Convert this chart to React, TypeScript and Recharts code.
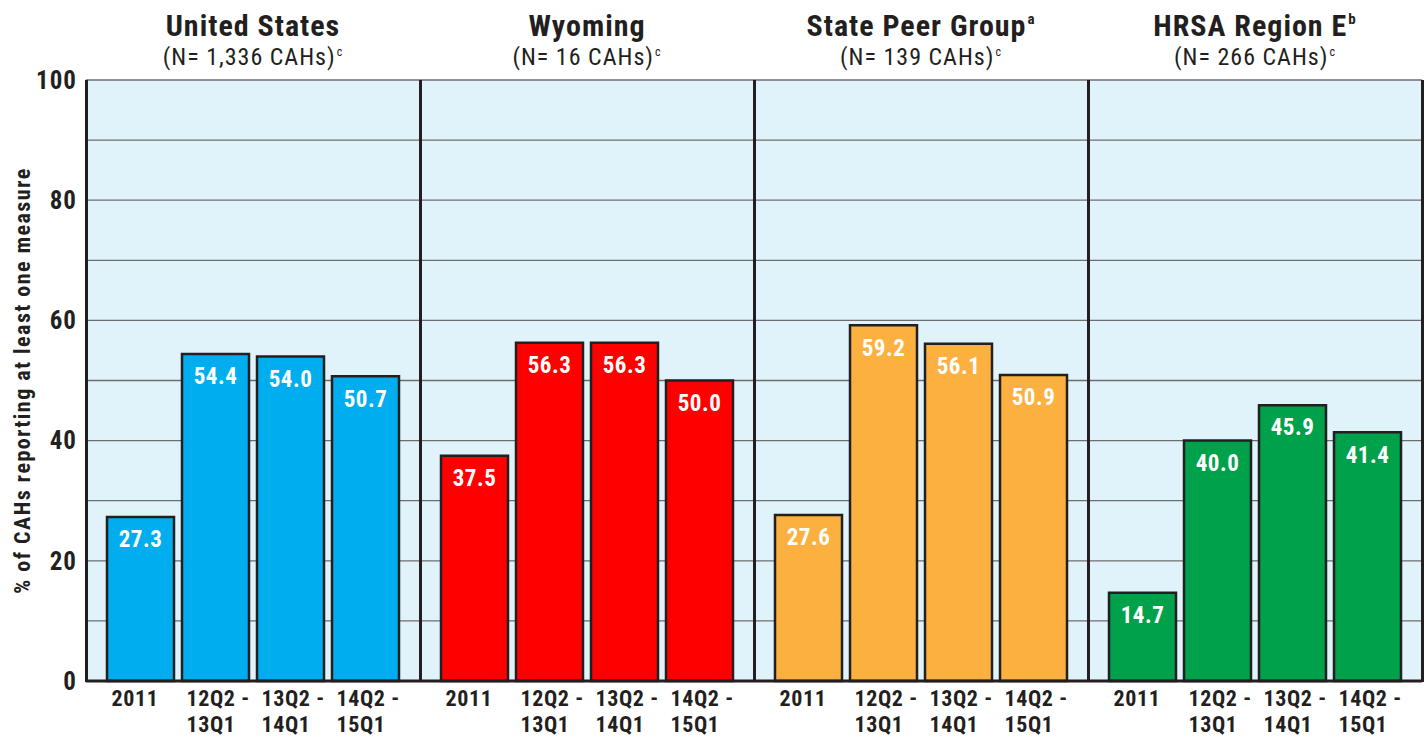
import { BarChart, Bar, XAxis, YAxis, CartesianGrid, LabelList } from "recharts";

const periods = ["2011", "12Q2 - 13Q1", "13Q2 - 14Q1", "14Q2 - 15Q1"];
const unitedStates = [27.3, 54.4, 54.0, 50.7];
const wyoming = [37.5, 56.3, 56.3, 50.0];
const statePeerGroup = [27.6, 59.2, 56.1, 50.9];
const hrsaRegionE = [14.7, 40.0, 45.9, 41.4];
const yTicks = [0, 10, 20, 30, 40, 50, 60, 70, 80, 90, 100];

const panelNames = ["United States", "Wyoming", "State Peer Group", "HRSA Region E"];
const panelNotes = ["", "", "a", "b"];
const panelCounts = ["(N= 1,336 CAHs)", "(N= 16 CAHs)", "(N= 139 CAHs)", "(N= 266 CAHs)"];
const panelValues = [unitedStates, wyoming, statePeerGroup, hrsaRegionE];
const panelColors = ["#00AEEF", "#FF0000", "#FBB040", "#00A14B"];

const FONT = "'Liberation Sans Narrow', 'Arial Narrow', 'Roboto Condensed', sans-serif";
const INK = "#231F20";

const PLOT_TOP = 80;
const PLOT_BOTTOM = 681;
const AXIS_W = 86;
const PANEL_W = 334;

function PeriodTick({ x, y, payload }: any) {
  const parts = String(payload.value).split(" - ");
  return (
    <text
      x={x - 29}
      y={y}
      fontFamily={FONT}
      fontWeight={700}
      fontSize={22}
      letterSpacing={0.6}
      fill={INK}
      textAnchor="start"
    >
      <tspan x={x - 29} dy={25}>{parts.length > 1 ? parts[0] + " -" : parts[0]}</tspan>
      {parts.length > 1 && <tspan x={x - 29} dy={26}>{parts[1]}</tspan>}
    </text>
  );
}

function Panel({ index }: { index: number }) {
  const first = index === 0;
  const data = periods.map((p, i) => ({ period: p, value: panelValues[index][i] }));
  const chartLeft = first ? 0 : AXIS_W + PANEL_W * index;
  const chartWidth = first ? AXIS_W + PANEL_W : PANEL_W;
  return (
    <div style={{ position: "absolute", left: chartLeft, top: 0 }}>
      <BarChart
        width={chartWidth}
        height={740}
        data={data}
        margin={{ top: PLOT_TOP, right: 0, bottom: 0, left: 0 }}
      >
        <CartesianGrid vertical={false} fill="#E0F3FA" stroke="#6D6E71" strokeWidth={1.3} />
        <XAxis
          dataKey="period"
          height={740 - PLOT_BOTTOM}
          padding={{ left: 17, right: 17 }}
          axisLine={{ stroke: INK, strokeWidth: 3 }}
          tickLine={false}
          tickSize={0}
          tickMargin={0}
          interval={0}
          tick={<PeriodTick />}
        />
        <YAxis
          domain={[0, 100]}
          ticks={yTicks}
          hide={!first}
          width={AXIS_W}
          axisLine={false}
          tickLine={false}
          tickSize={0}
          tickMargin={9}
          tickFormatter={(v: number) => (v % 20 === 0 ? String(v) : "")}
          tick={{ fontFamily: FONT, fontWeight: 700, fontSize: 25, letterSpacing: 1, fill: INK }}
          label={{
            value: "% of CAHs reporting at least one measure",
            angle: -90,
            position: "insideLeft",
            offset: 22,
            style: {
              fontFamily: FONT,
              fontWeight: 700,
              fontSize: 22,
              letterSpacing: 1.5,
              fill: INK,
              textAnchor: "middle",
            },
          }}
        />
        <Bar
          dataKey="value"
          fill={panelColors[index]}
          stroke={INK}
          strokeWidth={2.5}
          barSize={67}
          isAnimationActive={false}
        >
          <LabelList
            dataKey="value"
            position="insideTop"
            offset={14}
            formatter={(v: any) => Number(v).toFixed(1)}
            style={{ fontFamily: FONT, fontWeight: 700, fontSize: 23, letterSpacing: 0.5, fill: "#FFFFFF" }}
          />
        </Bar>
      </BarChart>
    </div>
  );
}

export default function App() {
  const separators = [0, 1, 2, 3, 4].map((i) => AXIS_W + PANEL_W * i);
  return (
    <div style={{ position: "relative", width: 1426, height: 740, background: "#FFFFFF", overflow: "hidden" }}>
      <style>{`body{margin:0}`}</style>
      {[0, 1, 2, 3].map((i) => (
        <Panel key={i} index={i} />
      ))}
      {separators.map((x, i) => (
        <div
          key={i}
          style={{
            position: "absolute",
            left: x - 1.5,
            top: PLOT_TOP,
            width: 3,
            height: PLOT_BOTTOM - PLOT_TOP + 1,
            background: INK,
          }}
        />
      ))}
      {panelNames.map((name, i) => (
        <div
          key={name}
          style={{
            position: "absolute",
            left: AXIS_W + PANEL_W * i,
            width: PANEL_W,
            top: 0,
            textAlign: "center",
            fontFamily: FONT,
            color: INK,
          }}
        >
          <div
            style={{
              position: "absolute",
              left: 0,
              right: 0,
              top: 8,
              fontSize: 30,
              fontWeight: 700,
              letterSpacing: 1,
              lineHeight: "36px",
              whiteSpace: "nowrap",
            }}
          >
            {name}
            {panelNotes[i] && (
              <span style={{ position: "relative", top: -12, fontSize: 15, lineHeight: 0, marginLeft: 1 }}>
                {panelNotes[i]}
              </span>
            )}
          </div>
          <div
            style={{
              position: "absolute",
              left: 0,
              right: 0,
              top: 43,
              fontSize: 24,
              letterSpacing: 1,
              lineHeight: "28px",
              whiteSpace: "nowrap",
            }}
          >
            {panelCounts[i]}
            <span style={{ position: "relative", top: -9, fontSize: 12, lineHeight: 0, marginLeft: 1 }}>c</span>
          </div>
        </div>
      ))}
    </div>
  );
}
